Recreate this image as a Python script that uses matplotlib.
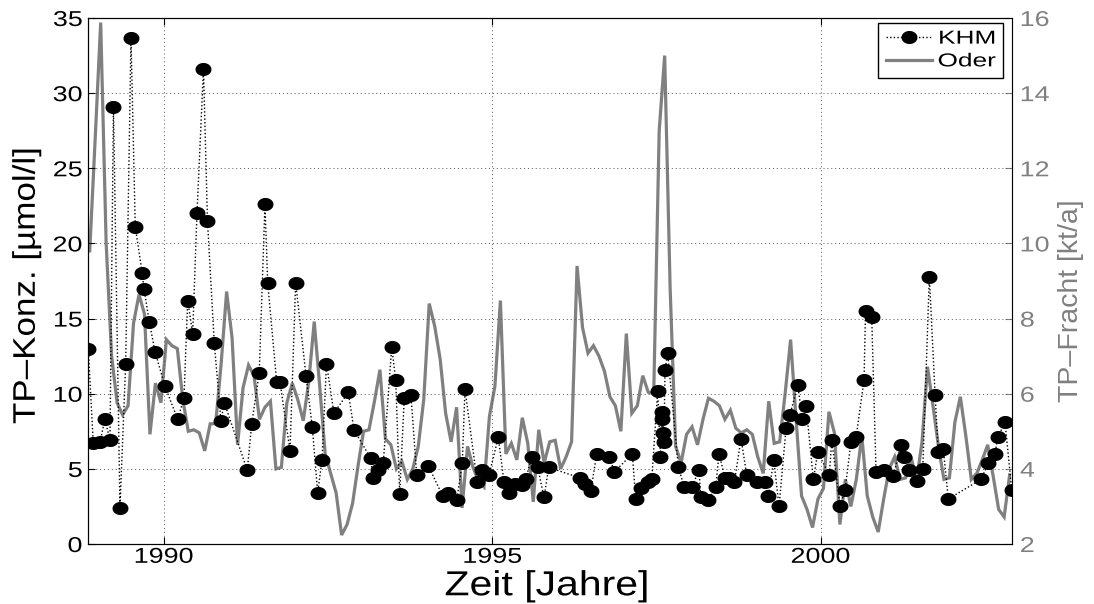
import numpy as np
import matplotlib
matplotlib.use("Agg")
import matplotlib.pyplot as plt
from matplotlib.path import Path
from matplotlib.lines import Line2D
from matplotlib.patheffects import AbstractPathEffect
from matplotlib.transforms import Affine2D

# ---------------- data ----------------
# KHM: total phosphorus concentration [umol/l], irregular sampling (decimal years)
khm_time = [1988.853, 1988.929, 1989.031, 1989.107, 1989.183, 1989.236, 1989.335, 1989.422,
            1989.503, 1989.568, 1989.675, 1989.700, 1989.781, 1989.868, 1990.020, 1990.213,
            1990.309, 1990.366, 1990.442, 1990.507, 1990.606, 1990.667, 1990.770, 1990.872,
            1990.923, 1991.273, 1991.340, 1991.455, 1991.542, 1991.583, 1991.720, 1991.770,
            1991.923, 1992.009, 1992.166, 1992.262, 1992.344, 1992.410, 1992.478, 1992.592,
            1992.810, 1992.897, 1993.151, 1993.181, 1993.257, 1993.343, 1993.471, 1993.532,
            1993.592, 1993.662, 1993.764, 1993.851, 1994.028, 1994.247, 1994.332, 1994.460,
            1994.545, 1994.586, 1994.773, 1994.840, 1994.952, 1995.093, 1995.180, 1995.256,
            1995.347, 1995.458, 1995.510, 1995.601, 1995.693, 1995.789, 1995.860, 1996.337,
            1996.413, 1996.499, 1996.591, 1996.783, 1996.859, 1997.133, 1997.184, 1997.265,
            1997.376, 1997.428, 1997.519, 1997.559, 1997.580, 1997.589, 1997.604, 1997.615,
            1997.630, 1997.671, 1997.833, 1997.924, 1998.037, 1998.148, 1998.174, 1998.289,
            1998.402, 1998.452, 1998.544, 1998.609, 1998.685, 1998.787, 1998.874, 1999.035,
            1999.152, 1999.203, 1999.285, 1999.366, 1999.472, 1999.533, 1999.650, 1999.720,
            1999.777, 1999.888, 1999.955, 2000.131, 2000.168, 2000.294, 2000.370, 2000.461,
            2000.538, 2000.659, 2000.682, 2000.776, 2000.842, 2000.968, 2001.105, 2001.218,
            2001.273, 2001.349, 2001.471, 2001.553, 2001.653, 2001.741, 2001.790, 2001.866,
            2001.942, 2002.440, 2002.551, 2002.653, 2002.694, 2002.805, 2002.907]
khm_conc = [13.0, 6.7, 6.8, 8.3, 6.9, 29.1, 2.4, 12.0,
            33.7, 21.1, 18.0, 17.0, 14.8, 12.8, 10.5, 8.3,
            9.7, 16.2, 14.0, 22.0, 31.6, 21.5, 13.4, 8.2,
            9.4, 4.9, 8.0, 11.4, 22.6, 17.4, 10.8, 10.8,
            6.2, 17.4, 11.2, 7.8, 3.4, 5.6, 12.0, 8.7,
            10.1, 7.6, 5.7, 4.4, 4.9, 5.4, 13.1, 10.9,
            3.3, 9.7, 9.9, 4.6, 5.2, 3.2, 3.4, 2.9,
            5.4, 10.3, 4.1, 4.9, 4.6, 7.1, 4.1, 3.4,
            4.0, 3.9, 4.3, 5.8, 5.1, 3.1, 5.1, 4.4,
            4.0, 3.5, 6.0, 5.8, 4.8, 6.0, 3.0, 3.7,
            4.1, 4.3, 10.2, 5.8, 8.3, 8.8, 7.4, 6.8,
            11.6, 12.7, 5.1, 3.8, 3.8, 4.9, 3.1, 2.9,
            3.8, 6.0, 4.4, 4.4, 4.1, 7.0, 4.6, 4.1,
            4.1, 3.2, 5.6, 2.5, 7.7, 8.6, 10.6, 8.3,
            9.2, 4.3, 6.1, 4.6, 6.9, 2.5, 3.6, 6.8,
            7.1, 10.9, 15.5, 15.1, 4.8, 4.9, 4.5, 6.6,
            5.8, 4.9, 4.2, 5.0, 17.8, 9.9, 6.1, 6.3,
            3.0, 4.3, 5.4, 6.0, 7.1, 8.1, 3.6]

# Oder: monthly total phosphorus load [kt/a], Nov 1988 .. Nov 2002 (mid-month)
oder_start = 1988.875
oder_load = [9.80, 12.80, 15.88, 10.00, 7.00, 5.76, 5.44, 5.68, 7.88, 8.64, 8.12, 4.92,
             6.28, 5.76, 7.44, 7.28, 7.20, 5.84, 5.00, 5.04, 4.96, 4.48, 5.20, 5.20,
             6.80, 8.72, 7.48, 4.64, 6.16, 6.76, 6.48, 5.32, 5.64, 5.80, 4.00, 4.04,
             5.76, 6.28, 5.84, 5.28, 6.32, 7.92, 6.20, 4.40, 3.88, 3.36, 2.24, 2.52,
             3.08, 4.08, 5.00, 5.04, 5.80, 6.64, 4.80, 4.64, 4.00, 4.20, 3.72, 4.00,
             4.60, 5.84, 8.40, 7.80, 6.92, 5.48, 4.72, 5.64, 2.96, 4.60, 4.04, 3.68,
             3.52, 5.40, 6.20, 8.48, 4.40, 4.68, 4.24, 5.36, 4.68, 3.12, 5.04, 4.16,
             4.72, 4.76, 4.00, 4.32, 4.72, 9.40, 7.76, 7.08, 7.28, 7.00, 6.60, 5.92,
             5.68, 5.00, 7.60, 5.48, 5.68, 6.48, 6.04, 6.00, 13.00, 15.00, 8.80, 4.60,
             4.16, 4.92, 5.12, 4.64, 5.32, 5.88, 5.80, 5.68, 5.32, 5.56, 5.08, 4.96,
             5.04, 4.92, 4.32, 3.88, 5.80, 4.68, 4.72, 6.00, 7.44, 5.32, 3.28, 2.92,
             2.44, 3.20, 3.48, 5.52, 4.96, 2.52, 3.72, 3.00, 3.72, 4.88, 3.28, 2.72,
             2.32, 3.20, 4.00, 4.32, 3.72, 3.76, 4.32, 3.68, 4.72, 6.72, 5.68, 4.60,
             3.72, 3.76, 5.24, 5.92, 4.88, 3.72, 3.88, 4.24, 4.64, 3.80, 2.92, 2.72,
             3.84]
oder_time = oder_start + np.arange(len(oder_load)) / 12.0

x_ticks = [1990, 1995, 2000]
left_ticks = [0, 5, 10, 15, 20, 25, 30, 35]
right_ticks = [2, 4, 6, 8, 10, 12, 14, 16]


# text drawn slightly wider along its reading direction (as in the original export)
class Stretch(AbstractPathEffect):
    def __init__(self, s=1.0, anchor='center'):
        super().__init__()
        self.s = s
        self.anchor = anchor

    def draw_path(self, renderer, gc, tpath, affine, rgbFace=None):
        ext = tpath.get_extents()
        if self.anchor == 'left':
            cx = ext.x0
        elif self.anchor == 'right':
            cx = ext.x1
        else:
            cx = 0.5 * (ext.x0 + ext.x1)
        a = Affine2D().translate(-cx, 0).scale(self.s, 1.0).translate(cx, 0) + affine
        renderer.draw_path(gc, tpath, a, rgbFace)


# ---------------- style ----------------
plt.rcParams['font.family'] = ['Liberation Sans', 'DejaVu Sans']
GRAY = '#808080'
TICK_FS = 15.5
TICK_S = 1.25

fig = plt.figure(figsize=(10.94, 6.04), dpi=100)
ax = fig.add_axes([0.0804, 0.0993, 0.8444, 0.8709])
ax2 = ax.twinx()

# Oder on right axis
ax2.plot(oder_time, oder_load, color=GRAY, lw=2.3, solid_joinstyle='miter')
ax2.set_ylim(2, 16)
ax2.set_yticks(right_ticks)
ax2.tick_params(axis='y', colors=GRAY, labelsize=TICK_FS, direction='in', length=5, pad=6)
ax2.spines['right'].set_color(GRAY)
ax2.set_ylabel('TP–Fracht [kt/a]', color=GRAY, fontsize=20.5)
ax2.yaxis.set_label_coords(1.050, 0.462)

# ellipse marker (dots appear slightly wider than tall)
th = np.linspace(0, 2 * np.pi, 41)
ell = Path(np.column_stack([np.cos(th), 0.8 * np.sin(th)]))

ax.plot(khm_time, khm_conc, color='black', ls=(0, (1, 1.6)), lw=1.0,
        marker=ell, ms=10.5, mfc='black', mec='black')
ax.set_ylim(0, 35)
ax.set_yticks(left_ticks)
ax.set_xlim(1988.848, 2002.907)
ax.set_xticks(x_ticks)
ax.tick_params(axis='both', labelsize=TICK_FS, direction='in', length=5, top=True)
ax.tick_params(axis='x', pad=2)
ax.tick_params(axis='y', pad=4)
ax.set_ylabel('TP–Konz. [µmol/l]', fontsize=22.5)
ax.yaxis.set_label_coords(-0.050, 0.491)
ax.set_xlabel('Zeit [Jahre]', fontsize=25)
ax.xaxis.set_label_coords(0.497, -0.048)
ax.grid(True, color='#555555', ls=(0, (1, 3)), lw=0.7)

ax.set_zorder(ax2.get_zorder() + 1)
ax.patch.set_visible(False)

for lbl in ax.get_xticklabels():
    lbl.set_path_effects([Stretch(TICK_S, 'center')])
for lbl in ax.get_yticklabels():
    lbl.set_path_effects([Stretch(TICK_S, 'right')])
for lbl in ax2.get_yticklabels():
    lbl.set_path_effects([Stretch(TICK_S, 'left')])
ax.xaxis.label.set_path_effects([Stretch(1.18, 'center')])
ax.yaxis.label.set_path_effects([Stretch(1.12, 'center')])

h1 = Line2D([], [], color='black', ls=(0, (1, 1.6)), lw=1.0, marker=ell, ms=10.5, mfc='black')
h2 = Line2D([], [], color=GRAY, lw=2.3)
leg = ax.legend([h1, h2], ['KHM', 'Oder'], loc='upper right', fontsize=13.5,
                bbox_to_anchor=(0.9906, 0.9905), borderaxespad=0,
                frameon=True, fancybox=False, framealpha=1, edgecolor='black',
                borderpad=0.4, labelspacing=0.3, handlelength=2.5, handletextpad=1.15)
leg.get_frame().set_linewidth(1.0)
for t in leg.get_texts():
    t.set_path_effects([Stretch(1.4, 'right')])

fig.savefig('out.png', dpi=100)
